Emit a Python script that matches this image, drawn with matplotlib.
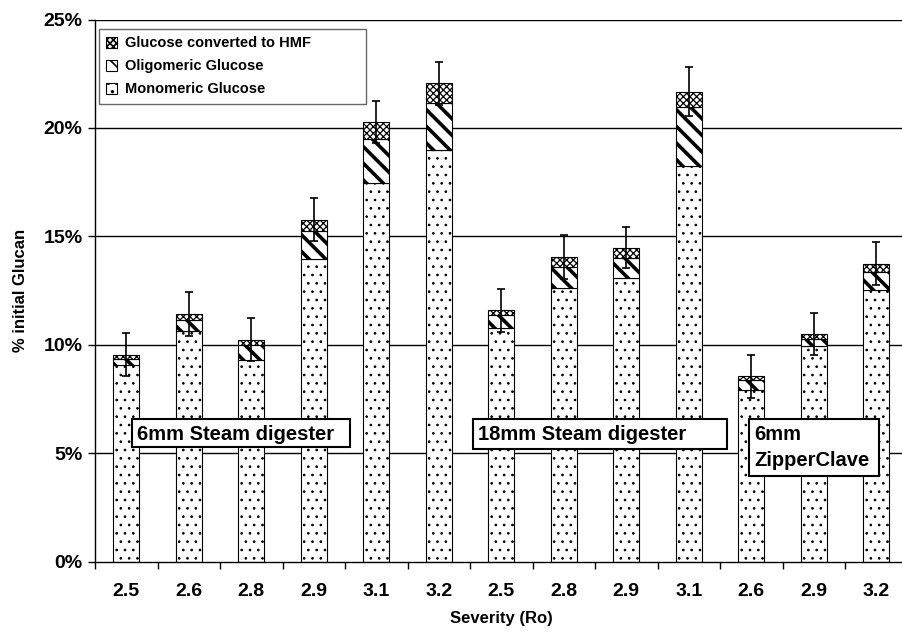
import numpy as np
import matplotlib
matplotlib.use("Agg")
import matplotlib.pyplot as plt
from matplotlib.patches import Rectangle

plt.rcParams['font.family'] = ['Liberation Sans', 'DejaVu Sans']
plt.rcParams['font.weight'] = 'bold'
plt.rcParams['hatch.linewidth'] = 1.2

# severity of each run, grouped by reactor
severity = ['2.5', '2.6', '2.8', '2.9', '3.1', '3.2',
            '2.5', '2.8', '2.9', '3.1',
            '2.6', '2.9', '3.2']

# % of initial glucan
monomeric = [9.08, 10.62, 9.28, 13.98, 17.44, 18.96, 10.79, 12.62, 13.08, 18.24, 7.93, 9.93, 12.54]
oligomeric = [0.28, 0.54, 0.72, 1.26, 2.06, 2.20, 0.60, 0.97, 0.92, 2.71, 0.46, 0.35, 0.80]
hmf = [0.18, 0.27, 0.24, 0.52, 0.77, 0.89, 0.20, 0.46, 0.47, 0.73, 0.15, 0.22, 0.40]
err = [1.00, 1.01, 0.98, 0.99, 0.97, 0.99, 0.99, 1.02, 0.95, 1.11, 1.00, 0.97, 0.99]

mono = np.array(monomeric)
olig = np.array(oligomeric)
hm = np.array(hmf)
total = mono + olig + hm

W, H = 902, 633
fig = plt.figure(figsize=(W / 100, H / 100), dpi=100)
ax = fig.add_axes([95 / W, 1 - 561.7 / H, 812.5 / W, 542.2 / H])

x = np.arange(len(severity))
w = 0.416

styles = {
    'mono': ('..', 0.7),
    'olig': ('\\\\', 2.6),
    'hmf': ('xxxxx', 0.9),
}


def set_hlw(p, lw):
    if hasattr(p, 'set_hatch_linewidth'):
        p.set_hatch_linewidth(lw)


def stack(bottom, height, key):
    hatch, hlw = styles[key]
    bars = ax.bar(x, height, w, bottom=bottom, color='white', edgecolor='black',
                  linewidth=0.8, hatch=hatch, zorder=2)
    for b in bars:
        set_hlw(b, hlw)
    return bars


stack(0, mono, 'mono')
stack(mono, olig, 'olig')
stack(mono + olig, hm, 'hmf')

ax.errorbar(x, total, yerr=err, fmt='none', ecolor='black', elinewidth=1.2,
            capsize=3, capthick=1.2, zorder=3)

ax.set_xlim(-0.5, len(severity) - 0.5)
ax.set_ylim(0, 25)
ax.set_yticks(np.arange(0, 26, 5))
ax.set_yticklabels([f'{v}%' for v in range(0, 26, 5)], fontsize=14, fontweight='bold')
ax.set_xticks(x)
ax.set_xticklabels(severity, fontsize=14, fontweight='bold')
ax.set_xticks(np.arange(-0.5, len(severity), 1), minor=True)
ax.tick_params(axis='x', which='major', length=0, pad=15)
ax.tick_params(axis='x', which='minor', length=5, width=1, direction='out')
ax.tick_params(axis='y', length=5, width=1, direction='out', pad=4)

for v in range(5, 26, 5):
    ax.axhline(v, color='black', lw=1, zorder=1)

for s in ['top', 'right']:
    ax.spines[s].set_visible(False)
for s in ['left', 'bottom']:
    ax.spines[s].set_linewidth(1)

ax.set_ylabel('% initial Glucan', fontsize=12, fontweight='bold', labelpad=11)
ax.set_xlabel('Severity (Ro)', fontsize=12, fontweight='bold', labelpad=8)

# legend with HMF on top
handles = []
for key in ['hmf', 'olig', 'mono']:
    hatch, hlw = styles[key]
    r = Rectangle((0, 0), 1, 1, facecolor='white', edgecolor='black', lw=0.8, hatch=hatch)
    set_hlw(r, min(hlw, 1.2))
    handles.append(r)
leg = ax.legend(handles, ['Glucose converted to HMF', 'Oligomeric Glucose', 'Monomeric Glucose'],
                loc='upper left', bbox_to_anchor=(0.0049, 0.835, 0.3286, 0.1475), mode='expand',
                fancybox=False, framealpha=1, edgecolor='#666666', borderaxespad=0,
                prop={'size': 10.5, 'weight': 'bold'}, handlelength=0.75, handleheight=0.75,
                handletextpad=0.5, labelspacing=0.62, borderpad=0.5)
leg.get_frame().set_linewidth(1)
leg.set_zorder(6)


# reactor labels, placed in pixel coordinates of the figure
def label_box(x0, y0, x1, y1, lines):
    fig.add_artist(Rectangle((x0 / W, 1 - y1 / H), (x1 - x0) / W, (y1 - y0) / H,
                             transform=fig.transFigure, facecolor='white',
                             edgecolor='black', lw=1.5, zorder=5))
    for i, t in enumerate(lines):
        fig.text((x0 + 5) / W, 1 - (440 + 26 * i) / H, t, fontsize=14.5, fontweight='bold',
                 ha='left', va='baseline', zorder=6)


label_box(131.7, 419, 350, 447, ['6mm Steam digester'])
label_box(473, 419, 727, 449, ['18mm Steam digester'])
label_box(749, 419, 879, 476, ['6mm', 'ZipperClave'])

fig.savefig('out.png', dpi=100)
